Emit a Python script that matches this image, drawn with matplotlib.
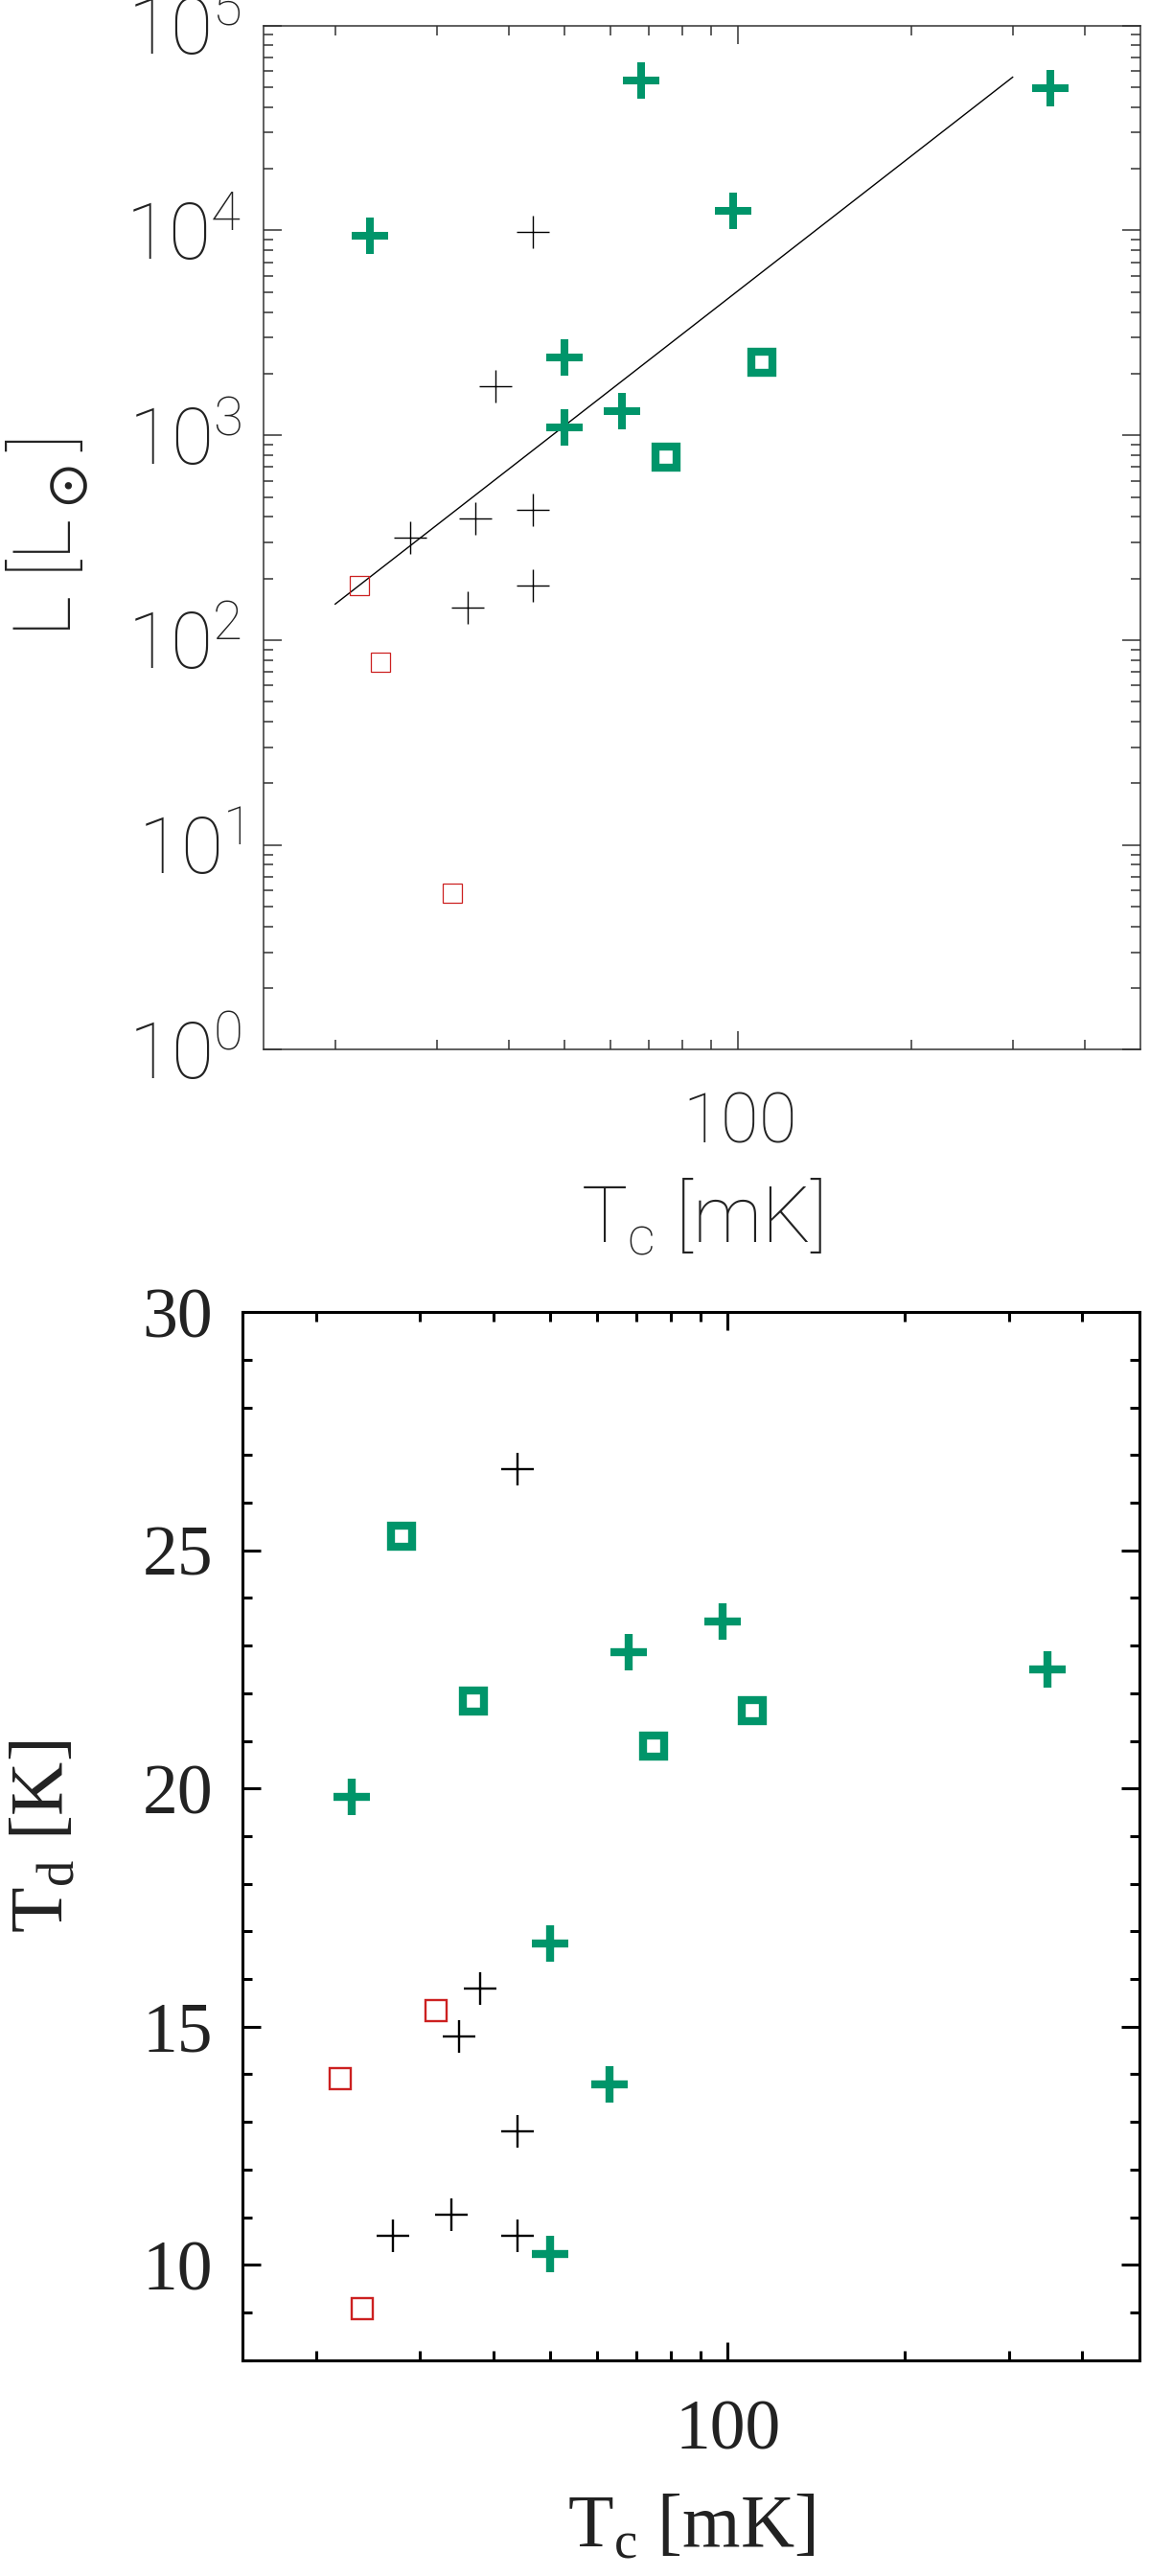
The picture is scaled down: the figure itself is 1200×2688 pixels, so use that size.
import math
import matplotlib
matplotlib.use("Agg")
import matplotlib.pyplot as plt
from matplotlib.ticker import FixedLocator, FuncFormatter, NullFormatter, MultipleLocator

# --- top panel: L vs Tc ---
tc_gplus_L = [23, 50, 50, 63, 68, 98, 349]
L_gplus = [9400, 2410, 1090, 1310, 54000, 12400, 49500]
tc_gsq_L = [110, 75]
L_gsq = [2270, 786]
tc_bplus_L = [44, 38, 44, 35, 27, 34, 44]
L_bplus = [9860, 1740, 432, 393, 315, 144, 185]
tc_rsq_L = [22, 24, 32]
L_rsq = [185, 78, 5.84]
fit_tc = [20, 300]
fit_L = [150, 56000]

# --- bottom panel: Td vs Tc ---
tc_gplus_T = [98, 68, 23, 50, 63, 349, 50]
Td_gplus = [23.5, 22.86, 19.83, 16.74, 13.79, 22.5, 10.23]
tc_gsq_T = [28, 37, 75, 110]
Td_gsq = [25.29, 21.84, 20.9, 21.64]
tc_bplus_T = [44, 38, 35, 27, 34, 44, 44]
Td_bplus = [26.71, 15.8, 14.8, 10.6, 11.05, 10.6, 12.8]
tc_rsq_T = [32, 22, 24]
Td_rsq = [15.34, 13.91, 9.09]

x_minor = [20, 30, 40, 50, 60, 70, 80, 90, 200, 300, 400]
x_major = [100]

GREEN = "#00956a"
RED = "#cc2020"
SANS = "Roboto"
SERIF = "Liberation Serif"

plt.rcParams["mathtext.fontset"] = "custom"
plt.rcParams["mathtext.rm"] = SERIF
plt.rcParams["mathtext.sf"] = SANS + ":light"
plt.rcParams["mathtext.fallback"] = "stix"

fig = plt.figure(figsize=(12, 26.88), dpi=100)

# top panel
ax1 = fig.add_axes([0.2289, 0.59245, 0.7628, 0.39762])
ax1.set_xscale("log")
ax1.set_yscale("log")
ax1.set_xlim(15, 500)
ax1.set_ylim(1, 1e5)
ax1.plot(fit_tc, fit_L, color="black", lw=1.0)
ax1.plot(tc_gplus_L, L_gplus, ls="none", marker="+", ms=27, mew=5.8, color=GREEN)
ax1.plot(tc_gsq_L, L_gsq, ls="none", marker="s", ms=16, mew=6, mfc="none", mec=GREEN)
ax1.plot(tc_bplus_L, L_bplus, ls="none", marker="+", ms=24, mew=1.0, color="black")
ax1.plot(tc_rsq_L, L_rsq, ls="none", marker="s", ms=15, mew=0.9, mfc="none", mec=RED)

ax1.xaxis.set_major_locator(FixedLocator(x_major))
ax1.xaxis.set_minor_locator(FixedLocator(x_minor))
ax1.xaxis.set_major_formatter(FuncFormatter(lambda v, p: r"$\mathsf{%d}$" % v))
ax1.xaxis.set_minor_formatter(NullFormatter())
ax1.yaxis.set_major_formatter(FuncFormatter(lambda v, p: r"$\mathsf{10^{%d}}$" % round(math.log10(v))))
ax1.tick_params(which="both", direction="in", top=True, right=True, width=1.1, color="#333333",
                labelcolor="#222222", labelfontfamily=SANS)
ax1.tick_params(which="major", length=14)
ax1.tick_params(which="minor", length=7)
ax1.tick_params(axis="x", which="major", pad=30, labelsize=52)
ax1.tick_params(axis="y", which="major", pad=16, labelsize=58)
for s in ax1.spines.values():
    s.set_linewidth(1.1)
    s.set_color("#333333")
ax1.set_xlabel(r"T$_\mathsf{c}$ [mK]", fontfamily=SANS, fontweight="light", fontsize=58, color="#222222")
ax1.set_ylabel(r"L [L$_\odot$]", fontfamily=SANS, fontweight="light", fontsize=60, color="#222222")
ax1.xaxis.set_label_coords(0.5, -0.1647)
ax1.yaxis.set_label_coords(-0.2455, 0.5)
ax1.xaxis.label.set_va("center")
ax1.yaxis.label.set_va("center")

# bottom panel
ax2 = fig.add_axes([0.21058, 0.08382, 0.78025, 0.40677])
ax2.set_xscale("log")
ax2.set_xlim(15, 500)
ax2.set_ylim(8, 30)
ax2.plot(tc_gplus_T, Td_gplus, ls="none", marker="+", ms=28, mew=6, color=GREEN)
ax2.plot(tc_gsq_T, Td_gsq, ls="none", marker="s", ms=16, mew=6, mfc="none", mec=GREEN)
ax2.plot(tc_bplus_T, Td_bplus, ls="none", marker="+", ms=24.5, mew=1.7, color="black")
ax2.plot(tc_rsq_T, Td_rsq, ls="none", marker="s", ms=16.3, mew=1.7, mfc="none", mec=RED)

ax2.xaxis.set_major_locator(FixedLocator(x_major))
ax2.xaxis.set_minor_locator(FixedLocator(x_minor))
ax2.xaxis.set_major_formatter(FuncFormatter(lambda v, p: "%d" % v))
ax2.xaxis.set_minor_formatter(NullFormatter())
ax2.yaxis.set_major_locator(MultipleLocator(5))
ax2.yaxis.set_minor_locator(MultipleLocator(1))
ax2.yaxis.set_major_formatter(FuncFormatter(lambda v, p: "%d" % v))
ax2.tick_params(which="both", direction="in", top=True, right=True, width=2.2, color="black",
                labelcolor="#222222", labelfontfamily=SERIF, labelsize=53)
ax2.tick_params(which="major", length=14)
ax2.tick_params(which="minor", length=7)
ax2.tick_params(axis="x", which="major", pad=30)
ax2.tick_params(axis="y", which="major", pad=22)
for s in ax2.spines.values():
    s.set_linewidth(2.2)
ax2.set_xlabel(r"T$_\mathrm{c}$ [mK]", fontfamily=SERIF, fontsize=56, color="#222222")
ax2.set_ylabel(r"T$_\mathrm{d}$ [K]", fontfamily=SERIF, fontsize=56, color="#222222")
ax2.xaxis.set_label_coords(0.5, -0.161)
ax2.yaxis.set_label_coords(-0.2197, 0.5)
ax2.xaxis.label.set_va("center")
ax2.yaxis.label.set_va("center")

fig.savefig("out.png", dpi=100)
